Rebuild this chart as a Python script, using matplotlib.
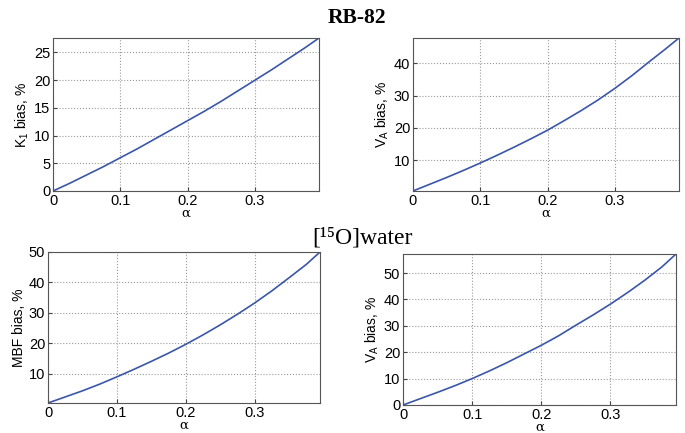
import matplotlib

matplotlib.use("Agg")
import matplotlib.pyplot as plt

# alpha (fraction) and bias (%) values
alpha = [0.0, 0.025, 0.05, 0.075, 0.1, 0.125, 0.15, 0.175, 0.2,
         0.225, 0.25, 0.275, 0.3, 0.325, 0.35, 0.375, 0.395]
rb_k1 = [0.0, 1.4, 2.9, 4.4, 6.0, 7.6, 9.3, 11.0, 12.7,
         14.4, 16.2, 18.1, 20.0, 21.9, 23.9, 25.9, 27.6]
rb_va = [0.4, 2.5, 4.6, 6.8, 9.1, 11.5, 14.0, 16.6, 19.3,
         22.3, 25.4, 28.7, 32.3, 36.2, 40.4, 44.5, 47.9]
wat_mbf = [0.3, 2.3, 4.3, 6.5, 8.9, 11.4, 14.0, 16.7, 19.6,
           22.7, 26.0, 29.5, 33.2, 37.2, 41.5, 45.9, 50.0]
wat_va = [0.0, 2.4, 4.8, 7.3, 10.0, 12.9, 16.0, 19.3, 22.6,
          26.2, 30.2, 34.1, 38.2, 42.6, 47.3, 52.4, 57.2]

xticks = [0, 0.1, 0.2, 0.3]
W, H = 685, 433
LINE = "#3a56a8"

plt.rcParams["font.family"] = ["Liberation Sans", "DejaVu Sans"]
plt.rcParams["mathtext.fontset"] = "custom"
plt.rcParams["mathtext.rm"] = "Liberation Sans"
plt.rcParams["mathtext.it"] = "Liberation Sans"


def panel(fig, box, y, ylabel, yticks):
    x0, x1, y0, y1 = box
    ax = fig.add_axes([x0 / W, 1 - y1 / H, (x1 - x0) / W, (y1 - y0) / H])
    ax.plot(alpha, y, color=LINE, lw=1.2)
    ax.set_xlim(0, alpha[-1])
    ax.set_ylim(min(y), max(y))
    ax.set_xticks(xticks)
    ax.set_xticklabels(["0", "0.1", "0.2", "0.3"])
    ax.set_yticks(yticks)
    ax.grid(True, ls=":", color="#9a9a9a", lw=0.8)
    ax.tick_params(direction="in", labelsize=10.5, length=3, pad=2, color="#444444")
    for s in ax.spines.values():
        s.set_color("#555555")
        s.set_linewidth(0.8)
    ax.set_xlabel("α", family=["DejaVu Serif"], fontsize=9.5, labelpad=-1)
    ax.set_ylabel(ylabel, fontsize=10, labelpad=2)
    return ax


fig = plt.figure(figsize=(6.85, 4.33), dpi=100)

panel(fig, (53, 319, 38, 191), rb_k1, r"K$_1$ bias, %", [0, 5, 10, 15, 20, 25])
panel(fig, (413, 679, 38, 191), rb_va, r"V$_A$ bias, %", [10, 20, 30, 40])
panel(fig, (48, 320, 252, 403), wat_mbf, "MBF bias, %", [10, 20, 30, 40, 50])
panel(fig, (403, 676, 254, 405), wat_va, r"V$_A$ bias, %", [0, 10, 20, 30, 40, 50])

fig.text(357 / W, 1 - 18 / H, "RB-82", ha="center", va="center", fontsize=15.5,
         fontweight="bold", family=["Liberation Serif", "DejaVu Serif"])
fig.text(362 / W, 1 - 238 / H, "[¹⁵O]water", ha="center", va="center", fontsize=17,
         family=["Liberation Serif", "DejaVu Serif"])

fig.savefig("out.png", dpi=100)
